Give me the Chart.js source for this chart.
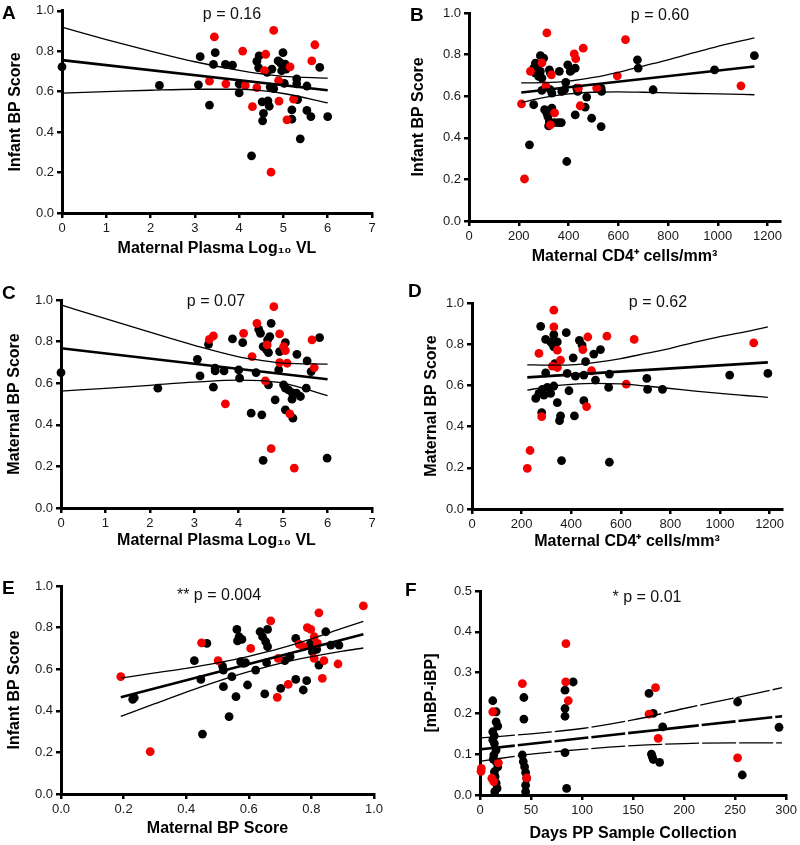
<!DOCTYPE html>
<html><head><meta charset="utf-8">
<script src="https://cdn.jsdelivr.net/npm/chart.js@4.4.1/dist/chart.umd.min.js"></script>
<style>
body{margin:0;background:#fff;width:800px;height:845px;position:relative;overflow:hidden;font-family:"Liberation Sans",Arial,sans-serif}
canvas{position:absolute}
.lbl{position:absolute;font-weight:bold;font-size:19px;color:#000;line-height:1}
.pv{position:absolute;font-size:16px;color:#111;transform:translateX(-50%);white-space:nowrap;line-height:1}
</style></head><body>
<canvas id="cA"></canvas><canvas id="cB"></canvas><canvas id="cC"></canvas>
<canvas id="cD"></canvas><canvas id="cE"></canvas><canvas id="cF"></canvas>
<div class="lbl" style="left:2px;top:2.5px">A</div>
<div class="lbl" style="left:410px;top:4.5px">B</div>
<div class="lbl" style="left:2px;top:282.5px">C</div>
<div class="lbl" style="left:408px;top:280.5px">D</div>
<div class="lbl" style="left:2px;top:577.5px">E</div>
<div class="lbl" style="left:405px;top:579.5px">F</div>
<div class="pv" style="left:232px;top:5.5px">p = 0.16</div>
<div class="pv" style="left:660px;top:7px">p = 0.60</div>
<div class="pv" style="left:216px;top:292.5px">p = 0.07</div>
<div class="pv" style="left:658px;top:293.5px">p = 0.62</div>
<div class="pv" style="left:219px;top:587px">** p = 0.004</div>
<div class="pv" style="left:647px;top:589px">* p = 0.01</div>
<script>
// ---------- Panel A: Infant BP vs maternal plasma log10 VL ----------
const A_black = [[0,0.723],[2.2,0.631],[3.08,0.634],[3.12,0.773],[3.33,0.534],[3.46,0.793],[3.42,0.735],[3.69,0.735],[3.85,0.731],[4.0,0.639],[4.0,0.594],[4.28,0.283],[4.45,0.777],[4.4,0.75],[4.44,0.718],[4.63,0.696],[4.74,0.712],[4.7,0.623],[4.78,0.615],[4.52,0.55],[4.65,0.555],[4.68,0.528],[4.55,0.493],[4.53,0.456],[4.99,0.793],[4.88,0.752],[4.93,0.743],[5.04,0.736],[4.96,0.704],[5.06,0.712],[5.02,0.641],[5.3,0.663],[5.3,0.639],[5.53,0.628],[5.19,0.51],[5.19,0.464],[5.32,0.561],[5.38,0.367],[5.53,0.507],[5.62,0.477],[5.82,0.72],[6.0,0.477]];
const A_red = [[3.44,0.871],[4.78,0.903],[4.08,0.801],[4.6,0.785],[5.71,0.832],[5.64,0.752],[3.33,0.652],[3.7,0.639],[4.4,0.62],[4.3,0.526],[4.9,0.553],[4.72,0.202],[5.15,0.723],[4.57,0.704],[5.08,0.461],[5.23,0.563],[4.14,0.631],[4.89,0.655]];
const A_fitX = [0, 6];
const A_fit = [0.756, 0.607];
const A_bandX = [0, 1, 2, 3, 4, 4.5, 5, 6];
const A_upper = [0.919, 0.858, 0.801, 0.748, 0.705, 0.688, 0.676, 0.667];
const A_lower = [0.593, 0.600, 0.607, 0.612, 0.612, 0.605, 0.591, 0.545];

// ---------- Panel B: Infant BP vs maternal CD4 ----------
const B_black = [[287,0.795],[300,0.783],[267,0.759],[280,0.751],[260,0.735],[273,0.727],[287,0.719],[267,0.711],[280,0.695],[293,0.687],[323,0.727],[327,0.711],[363,0.719],[397,0.751],[413,0.727],[427,0.735],[407,0.719],[677,0.775],[680,0.735],[740,0.631],[389,0.666],[293,0.628],[327,0.631],[333,0.615],[373,0.623],[384,0.631],[433,0.639],[437,0.623],[531,0.639],[533,0.623],[260,0.559],[473,0.596],[467,0.547],[304,0.535],[313,0.518],[333,0.543],[317,0.502],[323,0.478],[320,0.457],[344,0.473],[360,0.473],[371,0.473],[427,0.51],[493,0.494],[531,0.454],[243,0.366],[393,0.286],[987,0.727],[1147,0.795]];
const B_red = [[313,0.904],[629,0.872],[459,0.831],[423,0.803],[429,0.78],[596,0.698],[1093,0.65],[211,0.563],[223,0.202],[447,0.554],[309,0.65],[331,0.703],[247,0.719],[293,0.76],[513,0.639],[440,0.639],[327,0.462],[344,0.52]];
const B_fitX = [210, 1147];
const B_fit = [0.618, 0.743];
const B_bandX = [210, 300, 400, 500, 600, 700, 800, 900, 1000, 1147];
const B_upper = [0.664, 0.665, 0.672, 0.690, 0.715, 0.745, 0.775, 0.808, 0.840, 0.880];
const B_lower = [0.570, 0.593, 0.611, 0.619, 0.621, 0.619, 0.616, 0.613, 0.611, 0.607];

// ---------- Panel C: Maternal BP vs maternal plasma log10 VL ----------
const C_black = [[4.73,0.888],[4.45,0.859],[4.49,0.84],[4.7,0.824],[4.65,0.808],[3.86,0.813],[4.09,0.795],[3.32,0.787],[5.05,0.795],[4.55,0.776],[4.62,0.763],[4.67,0.747],[4.92,0.752],[5.31,0.739],[5.54,0.707],[5.63,0.656],[3.07,0.715],[3.47,0.672],[3.47,0.659],[3.67,0.659],[4.0,0.664],[4.02,0.624],[3.13,0.635],[4.39,0.651],[4.9,0.664],[3.43,0.581],[4.67,0.592],[5.01,0.592],[5.05,0.576],[5.12,0.568],[5.2,0.555],[5.3,0.552],[5.39,0.536],[5.52,0.576],[5.2,0.523],[4.82,0.52],[5.05,0.472],[5.22,0.432],[4.28,0.456],[4.52,0.448],[4.55,0.229],[5.99,0.24],[0,0.651],[2.18,0.576],[5.82,0.819]];
const C_red = [[4.79,0.968],[4.41,0.888],[4.92,0.837],[4.11,0.84],[3.43,0.827],[3.34,0.811],[5.65,0.808],[5.01,0.776],[5.05,0.757],[4.3,0.728],[4.92,0.699],[5.09,0.696],[5.7,0.675],[4.6,0.611],[3.7,0.501],[5.15,0.453],[4.73,0.285],[5.25,0.192],[4.64,0.784]];
const C_fitX = [0, 6];
const C_fit = [0.768, 0.619];
const C_bandX = [0, 1, 2, 3, 4, 4.5, 5, 6];
const C_upper = [0.976, 0.910, 0.845, 0.782, 0.727, 0.710, 0.697, 0.692];
const C_lower = [0.562, 0.575, 0.590, 0.605, 0.615, 0.612, 0.600, 0.540];

// ---------- Panel D: Maternal BP vs maternal CD4 ----------
const D_black = [[277,0.887],[380,0.856],[330,0.847],[297,0.823],[317,0.811],[344,0.811],[330,0.787],[324,0.803],[433,0.819],[444,0.795],[518,0.774],[491,0.752],[408,0.734],[458,0.715],[334,0.706],[705,0.634],[297,0.661],[384,0.658],[417,0.645],[451,0.65],[498,0.626],[554,0.655],[551,0.59],[708,0.581],[768,0.581],[284,0.581],[304,0.59],[317,0.561],[330,0.597],[270,0.561],[257,0.537],[290,0.553],[391,0.574],[344,0.516],[451,0.526],[281,0.468],[357,0.452],[353,0.429],[413,0.452],[361,0.235],[554,0.227],[1039,0.65],[1193,0.658]];
const D_red = [[330,0.965],[330,0.884],[467,0.835],[544,0.839],[654,0.823],[270,0.755],[344,0.771],[357,0.723],[447,0.774],[324,0.694],[344,0.687],[482,0.671],[622,0.606],[462,0.497],[281,0.448],[234,0.284],[223,0.197],[1136,0.806]];
const D_fitX = [223, 1193];
const D_fit = [0.639, 0.712];
const D_bandX = [223, 300, 400, 500, 600, 700, 800, 900, 1000, 1100, 1193];
const D_upper = [0.700, 0.698, 0.700, 0.712, 0.730, 0.755, 0.780, 0.810, 0.837, 0.860, 0.884];
const D_lower = [0.577, 0.593, 0.605, 0.610, 0.607, 0.597, 0.585, 0.572, 0.561, 0.551, 0.542];

// ---------- Panel E: Infant BP vs maternal BP ----------
const E_black = [[0.562,0.791],[0.569,0.756],[0.578,0.743],[0.564,0.736],[0.636,0.78],[0.644,0.756],[0.654,0.732],[0.66,0.708],[0.66,0.791],[0.466,0.724],[0.426,0.641],[0.516,0.615],[0.519,0.596],[0.574,0.636],[0.583,0.628],[0.59,0.631],[0.622,0.596],[0.657,0.631],[0.715,0.641],[0.732,0.66],[0.75,0.748],[0.796,0.72],[0.811,0.711],[0.817,0.695],[0.803,0.684],[0.846,0.78],[0.862,0.716],[0.888,0.716],[0.824,0.62],[0.447,0.551],[0.546,0.564],[0.519,0.516],[0.596,0.524],[0.559,0.468],[0.651,0.481],[0.702,0.508],[0.75,0.551],[0.785,0.545],[0.774,0.5],[0.537,0.372],[0.452,0.288],[0.234,0.463],[0.229,0.455]];
const E_red = [[0.966,0.904],[0.824,0.871],[0.670,0.832],[0.787,0.80],[0.798,0.791],[0.449,0.727],[0.606,0.70],[0.809,0.756],[0.761,0.72],[0.774,0.708],[0.819,0.724],[0.502,0.641],[0.694,0.652],[0.809,0.652],[0.84,0.641],[0.885,0.625],[0.835,0.556],[0.726,0.527],[0.691,0.465],[0.191,0.564],[0.285,0.204]];
const E_fitX = [0.191, 0.966];
const E_fit = [0.465, 0.768];
const E_bandX = [0.191, 0.3, 0.4, 0.5, 0.6, 0.7, 0.8, 0.9, 0.966];
const E_upper = [0.557, 0.582, 0.604, 0.630, 0.662, 0.700, 0.746, 0.797, 0.830];
const E_lower = [0.373, 0.434, 0.490, 0.542, 0.588, 0.628, 0.660, 0.687, 0.702];

// ---------- Panel F: [mBP-iBP] vs days post-partum ----------
const F_black = [[12.5,0.231],[15.8,0.204],[15.8,0.179],[17.4,0.169],[12.5,0.155],[14,0.145],[12.5,0.135],[14.1,0.126],[15.8,0.11],[13.5,0.098],[13,0.088],[15.8,0.082],[17.4,0.069],[14.1,0.057],[14.8,0.045],[15.8,0.029],[16.7,0.016],[14.5,0.008],[43,0.239],[43,0.186],[41.5,0.098],[42.4,0.082],[43.7,0.069],[44.7,0.055],[45.7,0.041],[44.7,0.024],[44.7,0.008],[91.3,0.277],[83.3,0.257],[83.3,0.212],[83.3,0.193],[83.3,0.104],[84.9,0.016],[165.6,0.249],[169.8,0.2],[168,0.1],[168.8,0.094],[169.8,0.087],[179,0.167],[176,0.08],[252.4,0.228],[257,0.049],[293,0.166]];
const F_red = [[84.2,0.371],[84,0.277],[86.5,0.231],[41.5,0.273],[1.3,0.065],[1.0,0.058],[12.5,0.204],[18,0.079],[11.6,0.041],[13.5,0.033],[45.7,0.042],[172,0.263],[165.6,0.198],[174.6,0.139],[252.4,0.091]];
const F_fitX = [1, 296];
const F_fit = [0.112, 0.193];
const F_bandX = [1, 50, 100, 150, 200, 250, 296];
const F_upper = [0.140, 0.150, 0.163, 0.184, 0.212, 0.238, 0.263];
const F_lower = [0.083, 0.100, 0.112, 0.121, 0.126, 0.128, 0.128];

const FAM = '"Liberation Sans", Arial, sans-serif';
Chart.defaults.font.family = FAM;
Chart.defaults.animation = false;

const pts = a => a.map(p => ({x: p[0], y: p[1]}));
const ln = (xs, ys) => xs.map((x, i) => ({x, y: ys[i]}));

function makePanel(id, c) {
  const lh = 16 * 1.2;
  const cv = document.getElementById(id);
  cv.width = c.cw; cv.height = c.ch;
  cv.style.left = c.cx + 'px'; cv.style.top = c.cy + 'px';
  cv.style.width = c.cw + 'px'; cv.style.height = c.ch + 'px';
  const padLeft = c.yTitleX - lh / 2 - c.cx;
  const yW = c.left - c.cx - padLeft;
  const padTop = c.top - c.cy;
  const padRight = c.cx + c.cw - c.right;
  const xH = c.xTitleY + lh / 2 - c.bottom;
  const padBottom = c.cy + c.ch - (c.xTitleY + lh / 2);
  const tickFont = {size: 13, family: FAM};
  const titleFont = {size: 16, weight: 'bold', family: FAM};
  const grid = {drawOnChartArea: false, drawTicks: true, tickLength: 5, color: '#000', lineWidth: 2.5};
  const border = {color: '#000', width: 3};
  const band = (xs, ys) => ({data: ln(xs, ys), showLine: true, pointRadius: 0, borderColor: '#000', borderWidth: 1.3, borderDash: c.dash || [], cubicInterpolationMode: 'monotone', order: 0, clip: false});
  new Chart(cv, {
    type: 'scatter',
    data: {datasets: [
      {data: ln(c.fitX, c.fit), showLine: true, pointRadius: 0, borderColor: '#000', borderWidth: 2.6, borderDash: c.dash || [], order: 0, clip: false},
      band(c.bandX, c.upper),
      band(c.bandX, c.lower),
      {data: pts(c.red), pointRadius: 4.4, pointBackgroundColor: '#f50000', pointBorderWidth: 0, order: 1, clip: false},
      {data: pts(c.black), pointRadius: 4.4, pointBackgroundColor: '#000', pointBorderWidth: 0, order: 1, clip: false}
    ]},
    options: {
      responsive: false, devicePixelRatio: 1, animation: false,
      layout: {padding: {left: padLeft, top: padTop, right: padRight, bottom: padBottom}},
      plugins: {legend: {display: false}, tooltip: {enabled: false}},
      events: [],
      scales: {
        x: {type: 'linear', min: c.xmin, max: c.xmax,
          afterBuildTicks: s => { s.ticks = c.xticks.map(v => ({value: v})); },
          ticks: {font: tickFont, color: '#1a1a1a', padding: 3, autoSkip: false, maxRotation: 0, callback: c.xfmt},
          grid, border,
          title: {display: true, text: c.xTitle, font: titleFont, color: '#000', padding: 0},
          afterFit: s => { s.height = xH; }},
        y: {type: 'linear', min: c.ymin, max: c.ymax,
          afterBuildTicks: s => { s.ticks = c.yticks.map(v => ({value: v})); },
          ticks: {font: tickFont, color: '#1a1a1a', padding: 3, autoSkip: false, callback: v => v.toFixed(1)},
          grid, border,
          title: {display: true, text: c.yTitle, font: titleFont, color: '#000', padding: 0},
          afterFit: s => { s.width = yW; }}
      }
    }
  });
}

const yT10 = [0, 0.2, 0.4, 0.6, 0.8, 1.0];
const xVL = [0, 1, 2, 3, 4, 5, 6, 7];
const xCD4 = [0, 200, 400, 600, 800, 1000, 1200];
const intFmt = v => String(Math.round(v));

makePanel('cA', {cx: 0, cy: 0, cw: 400, ch: 280, left: 62, right: 372, top: 7, bottom: 213, yTitleX: 16, xTitleY: 249,
  xmin: 0, xmax: 7, xticks: xVL, xfmt: intFmt, ymin: 0, ymax: 1, yticks: yT10,
  xTitle: 'Maternal Plasma Log\u2081\u2080 VL', yTitle: 'Infant BP Score',
  black: A_black, red: A_red, fitX: A_fitX, fit: A_fit, bandX: A_bandX, upper: A_upper, lower: A_lower});
makePanel('cB', {cx: 400, cy: 0, cw: 400, ch: 280, left: 469, right: 780, top: 13, bottom: 221, yTitleX: 419, xTitleY: 257,
  xmin: 0, xmax: 1250, xticks: xCD4, xfmt: intFmt, ymin: 0, ymax: 1, yticks: yT10,
  xTitle: 'Maternal CD4\u207A cells/mm\u00B3', yTitle: 'Infant BP Score',
  black: B_black, red: B_red, fitX: B_fitX, fit: B_fit, bandX: B_bandX, upper: B_upper, lower: B_lower});
makePanel('cC', {cx: 0, cy: 280, cw: 400, ch: 280, left: 61, right: 372, top: 300, bottom: 508, yTitleX: 15, xTitleY: 541,
  xmin: 0, xmax: 7, xticks: xVL, xfmt: intFmt, ymin: 0, ymax: 1, yticks: yT10,
  xTitle: 'Maternal Plasma Log\u2081\u2080 VL', yTitle: 'Maternal BP Score',
  black: C_black, red: C_red, fitX: C_fitX, fit: C_fit, bandX: C_bandX, upper: C_upper, lower: C_lower});
makePanel('cD', {cx: 400, cy: 280, cw: 400, ch: 280, left: 472, right: 782, top: 303, bottom: 509, yTitleX: 432, xTitleY: 542,
  xmin: 0, xmax: 1250, xticks: xCD4, xfmt: intFmt, ymin: 0, ymax: 1, yticks: yT10,
  xTitle: 'Maternal CD4\u207A cells/mm\u00B3', yTitle: 'Maternal BP Score',
  black: D_black, red: D_red, fitX: D_fitX, fit: D_fit, bandX: D_bandX, upper: D_upper, lower: D_lower});
makePanel('cE', {cx: 0, cy: 560, cw: 400, ch: 285, left: 61, right: 374, top: 586, bottom: 794, yTitleX: 15, xTitleY: 829,
  xmin: 0, xmax: 1, xticks: [0, 0.2, 0.4, 0.6, 0.8, 1.0], xfmt: v => v.toFixed(1), ymin: 0, ymax: 1, yticks: yT10,
  xTitle: 'Maternal BP Score', yTitle: 'Infant BP Score',
  black: E_black, red: E_red, fitX: E_fitX, fit: E_fit, bandX: E_bandX, upper: E_upper, lower: E_lower});
makePanel('cF', {cx: 400, cy: 560, cw: 400, ch: 285, left: 480, right: 792, top: 591, bottom: 795, yTitleX: 432, xTitleY: 834,
  xmin: 0, xmax: 300, xticks: [0, 50, 100, 150, 200, 250, 300], xfmt: intFmt, ymin: 0, ymax: 0.5, yticks: [0, 0.1, 0.2, 0.3, 0.4, 0.5],
  xTitle: 'Days PP Sample Collection', yTitle: '[mBP-iBP]', dash: [34, 3],
  black: F_black, red: F_red, fitX: F_fitX, fit: F_fit, bandX: F_bandX, upper: F_upper, lower: F_lower});
</script>
</body></html>
